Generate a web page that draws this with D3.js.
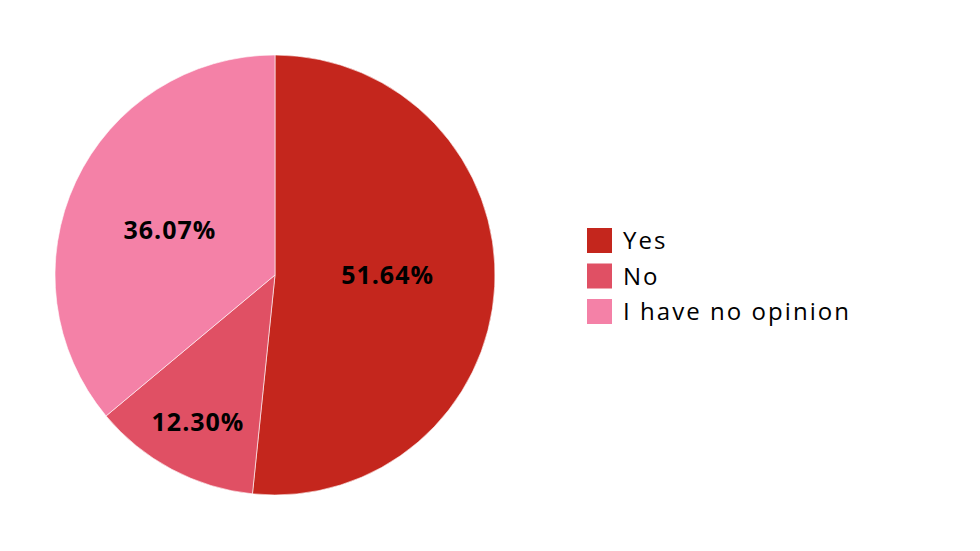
<!DOCTYPE html>
<html><head><meta charset="utf-8">
<script src="https://cdn.jsdelivr.net/npm/d3@7"></script>
<style>body{margin:0;background:#fff}svg{display:block}</style>
</head><body>
<svg id="c" width="980" height="551"></svg>
<script>
const categories = ["Yes", "No", "I have no opinion"];
const values = [51.64, 12.30, 36.07];
const colors = ["#C4261D", "#E05064", "#F481A7"];
const labelRadiusFrac = [0.51, 0.75, 0.53];
const labelDy = [-5.5, 1.5, 5];

const svg = d3.select("#c");
const cx = 275, cy = 275, r = 220;
const g = svg.append("g").attr("transform", `translate(${cx},${cy})`);
const pie = d3.pie().sort(null).value(d => d)(values);
const arc = d3.arc().innerRadius(0).outerRadius(r);
g.selectAll("path").data(pie).join("path")
  .attr("d", arc).attr("fill", (d,i) => colors[i])
  .attr("stroke", "#fff").attr("stroke-width", 0.6);
g.selectAll("text").data(pie).join("text")
  .attr("transform", (d,i) => {
    const lr = r * labelRadiusFrac[i];
    const a = d3.arc().innerRadius(lr).outerRadius(lr);
    const [x,y] = a.centroid(d);
    return `translate(${x + 0.5},${y + labelDy[i] + 8.9})`;
  })
  .attr("text-anchor", "middle")
  .attr("font-family", "'Open Sans', sans-serif").attr("font-weight", "bold")
  .attr("font-size", 25).attr("letter-spacing", 1).attr("fill", "#000")
  .text(d => d.data.toFixed(2) + "%");

const leg = svg.append("g").attr("transform", "translate(587,228)");
const items = leg.selectAll("g").data(categories).join("g")
  .attr("transform", (d,i) => `translate(0,${i*35.5})`);
items.append("rect").attr("width", 25).attr("height", 25).attr("fill", (d,i) => colors[i]);
items.append("text").attr("x", 36).attr("y", 12.5 + 8.5)
  .attr("font-family", "'Open Sans', sans-serif").attr("font-size", 24)
  .attr("letter-spacing", 2.05).attr("fill", "#000").text(d => d);
</script>
</body></html>
